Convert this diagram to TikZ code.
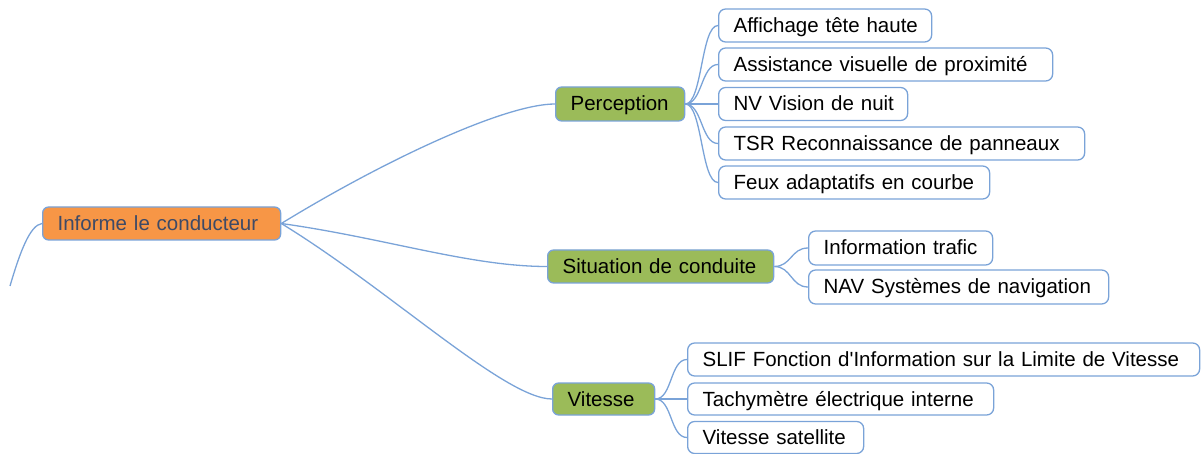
\documentclass[tikz,border=0pt]{standalone}
\usepackage{fontspec}
\setmainfont{Liberation Sans}
\definecolor{bl}{HTML}{7AA3D8}
\definecolor{orng}{HTML}{F79646}
\definecolor{grn}{HTML}{9BBB59}
\definecolor{roottxt}{HTML}{3E4A66}
\begin{document}
\begin{tikzpicture}[x=1pt,y=-1pt,
  box/.style={draw=bl,line width=1.3pt,rounded corners=6pt,inner xsep=15pt,inner ysep=0pt,anchor=west,
    minimum height=33pt,text height=19pt,text depth=5pt,align=left,text width=#1-30pt,
    font=\fontsize{20.5}{24}\selectfont},
  rootbox/.style={box=#1,fill=orng,text=roottxt},
  midbox/.style={box=#1,fill=grn,text=black},
  leaf/.style={box=#1,fill=white,text=black,rounded corners=7pt},
  conn/.style={draw=bl,line width=1.3pt}]
\useasboundingbox (0,0) rectangle (1202,454);
% main nodes
\node[rootbox=238pt] (root) at (42,223.5) {\mbox{Informe le conducteur}};
\node[midbox=129pt,minimum height=34pt] (perc) at (555,104) {\mbox{Perception}};
\node[midbox=226pt] (sit) at (547,266.5) {\mbox{Situation de conduite}};
\node[midbox=102pt,minimum height=32pt] (vit) at (552,399) {\mbox{Vitesse}};
% perception leaves
\node[leaf=213pt] (p1) at (718,25.5) {\mbox{Affichage tête haute}};
\node[leaf=334pt] (p2) at (718,64.5) {\mbox{Assistance visuelle de proximité}};
\node[leaf=189pt] (p3) at (718,104) {\mbox{NV Vision de nuit}};
\node[leaf=366pt] (p4) at (718,143.5) {\mbox{TSR Reconnaissance de panneaux}};
\node[leaf=271pt] (p5) at (718,182.5) {\mbox{Feux adaptatifs en courbe}};
% situation leaves
\node[leaf=184pt,minimum height=34pt] (s1) at (808,248) {\mbox{Information trafic}};
\node[leaf=300pt,minimum height=34pt] (s2) at (808,287) {\mbox{NAV Systèmes de navigation}};
% vitesse leaves
\node[leaf=512pt] (v1) at (687,359.5) {\mbox{SLIF Fonction d\textquotesingle Information sur la Limite de Vitesse}};
\node[leaf=306pt,minimum height=32pt] (v2) at (687,399) {\mbox{Tachymètre électrique interne}};
\node[leaf=176pt,minimum height=32pt] (v3) at (687,437.5) {\mbox{Vitesse satellite}};
% connectors from root
\coordinate (up) at (10,286);
\draw[conn] (root.west) .. controls (30,225) and (20,252) .. (up);
\draw[conn] (root.east) .. controls (385,160) and (505,104) .. (perc.west);
\draw[conn] (root.east) .. controls (385,238) and (470,266.5) .. (sit.west);
\draw[conn] (root.east) .. controls (390,290) and (505,399) .. (vit.west);
% connectors to leaves
\foreach \l in {p1,p2,p3,p4,p5}
  \draw[conn] (perc.east) .. controls +(17,0) and ([xshift=-17pt]\l.west) .. (\l.west);
\foreach \l in {s1,s2}
  \draw[conn] (sit.east) .. controls +(17,0) and ([xshift=-17pt]\l.west) .. (\l.west);
\foreach \l in {v1,v2,v3}
  \draw[conn] (vit.east) .. controls +(17,0) and ([xshift=-17pt]\l.west) .. (\l.west);
\end{tikzpicture}
\end{document}
